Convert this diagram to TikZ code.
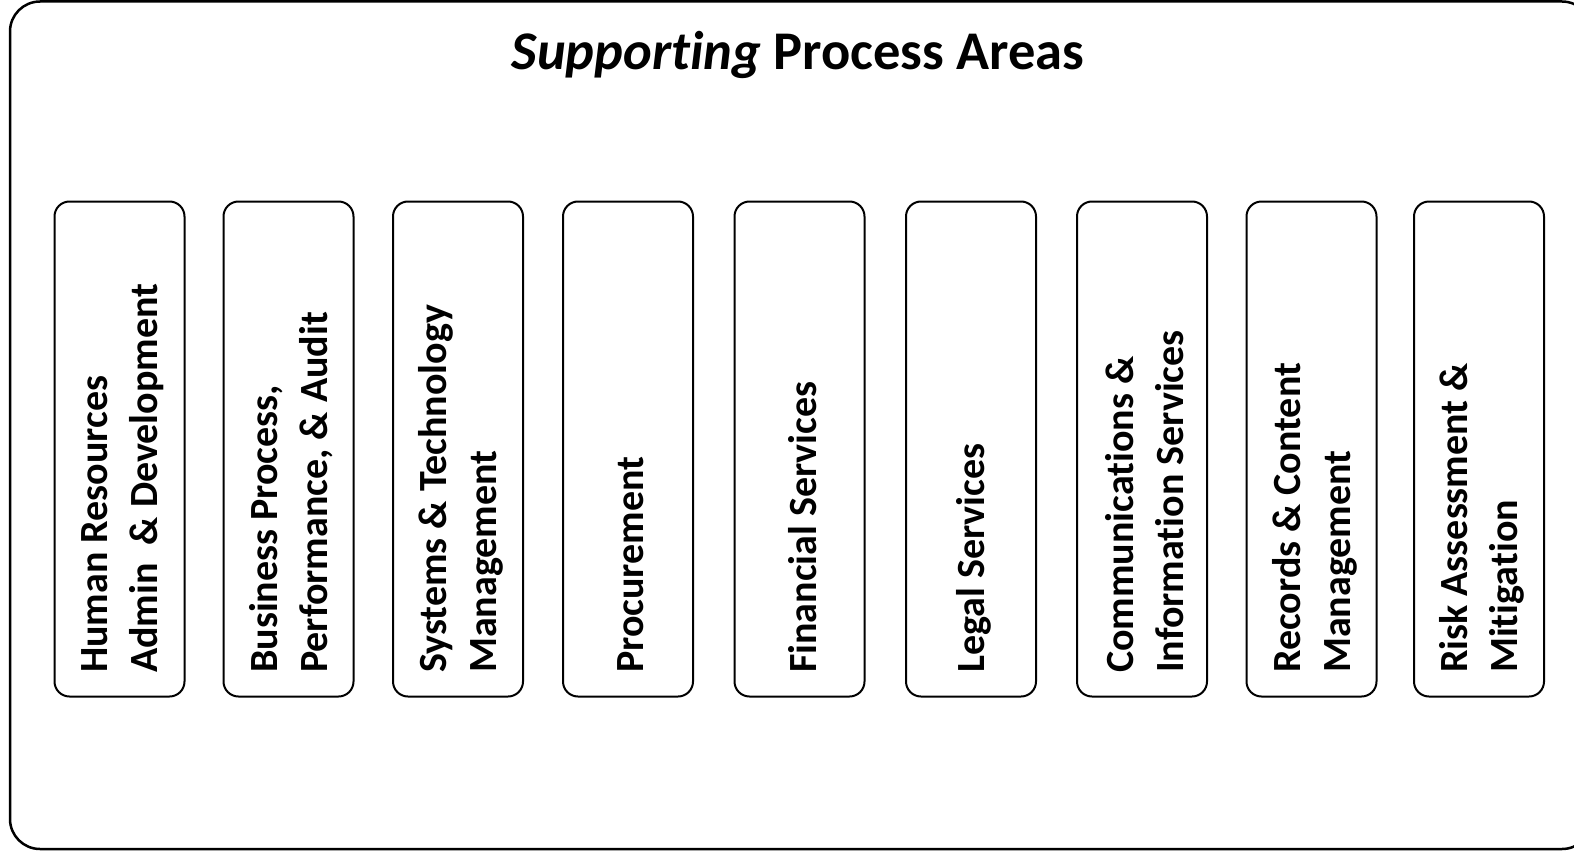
\documentclass[tikz,border=0pt]{standalone}
\usepackage{fontspec}
\setmainfont{Carlito}[Ligatures=NoCommon]
\begin{document}
\begin{tikzpicture}[x=1pt,y=-1pt,
  outerbox/.style={draw=black, line width=2.5pt, rounded corners=30pt},
  areabox/.style={draw=black, line width=2pt, rounded corners=15pt, minimum width=130pt, minimum height=495pt, inner sep=0pt},
  arealabel/.style={rotate=90, anchor=west, align=left, inner sep=0pt, font=\fontsize{40}{50}\selectfont\bfseries},
  titlelabel/.style={font=\fontsize{54.5}{60}\selectfont\bfseries, inner sep=0pt}]
\useasboundingbox (0,0) rectangle (1574,851);
\draw[outerbox] (10,1.5) rectangle (1592,849);
\node[titlelabel] (title) at (798,55) {\textit{Supporting} Process Areas};
\foreach \n/\cx/\t in {
  a/119.5/{Human Resources\\Admin\ \ \& Development},
  b/288.5/{Business Process,\\Performance, \& Audit},
  c/458/{Systems \& Technology\\Management},
  d/628/{Procurement},
  e/799.5/{Financial Services},
  f/971/{Legal Services},
  g/1142/{Communications \&\\Information Services},
  h/1311.5/{Records \& Content\\Management},
  i/1479/{Risk Assessment \&\\Mitigation}}{
  \node[areabox] (box\n) at (\cx,449) {};
  \node[arealabel] (lab\n) at (\cx+3,673) {\t};
}
\end{tikzpicture}
\end{document}
